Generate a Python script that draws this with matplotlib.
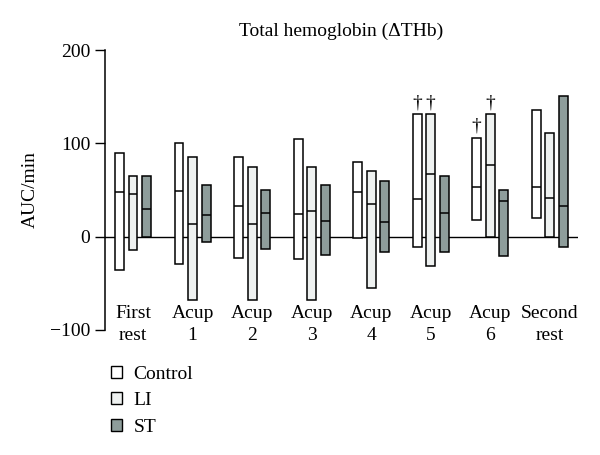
import matplotlib.pyplot as plt
from matplotlib.patches import Patch
import numpy as np

font = "Liberation Serif"
plt.rcParams['font.family'] = [font, 'DejaVu Serif']

categories = ["First\nrest", "Acup\n1", "Acup\n2", "Acup\n3", "Acup\n4", "Acup\n5", "Acup\n6", "Second\nrest"]
groups = ["Control", "LI", "ST"]
colors = ["#ffffff", "#eef1f0", "#8e9d9b"]

# min / median / max per category
control_min = [-36, -29, -23, -24, -1, -11, 18, 20]
control_med = [48, 49, 33, 24, 48, 40, 53, 53]
control_max = [90, 100, 85, 105, 80, 131, 106, 136]

li_min = [-14, -68, -68, -68, -55, -31, 0, 0]
li_med = [46, 14, 13, 27, 35, 67, 77, 41]
li_max = [65, 85, 75, 75, 70, 131, 131, 111]

st_min = [0, -6, -13, -20, -17, -17, -21, -11]
st_med = [30, 23, 25, 17, 16, 25, 38, 33]
st_max = [65, 55, 50, 55, 60, 65, 50, 151]

# daggers: (category index, group index)
daggers = [(5, 0), (5, 1), (6, 0), (6, 1)]

mins = [control_min, li_min, st_min]
meds = [control_med, li_med, st_med]
maxs = [control_max, li_max, st_max]

fig = plt.figure(figsize=(6, 4.55), dpi=100)
ax = fig.add_axes([0.175, 0.275, 0.788, 0.615])

x = np.arange(len(categories))
width = 0.15
offset = 0.227

for g in range(3):
    xs = x + (g - 1) * offset
    lo = np.array(mins[g])
    hi = np.array(maxs[g])
    ax.bar(xs, hi - lo, bottom=lo, width=width, color=colors[g],
           edgecolor='black', linewidth=1.1, zorder=3)
    ax.hlines(meds[g], xs - width / 2, xs + width / 2, color='black', linewidth=1.1, zorder=4)

for c, g in daggers:
    ax.text(x[c] + (g - 1) * offset, maxs[g][c] + 3, "\u2020", ha='center', va='bottom', fontsize=14)

ax.axhline(0, color='black', linewidth=1, zorder=2)

for i, lab in enumerate(categories):
    ax.text(x[i], -73, lab, ha='center', va='top', fontsize=14, linespacing=1.4)

ax.set_xlim(-0.47, 7.47)
ax.set_ylim(-100, 200)
ax.set_yticks([-100, 0, 100, 200])
ax.set_xticks([])
ax.tick_params(axis='y', labelsize=14, length=7, width=1)
for pos in ['right', 'top', 'bottom']:
    ax.spines[pos].set_visible(False)
ax.spines['left'].set_linewidth(1.1)
ax.set_ylabel("AUC/min", fontsize=14, labelpad=8)
ax.set_title("Total hemoglobin (\u0394THb)", fontsize=14, pad=10)

handles = [Patch(facecolor=colors[g], edgecolor='black', linewidth=1) for g in range(3)]
fig.legend(handles, groups, loc='upper left', bbox_to_anchor=(0.172, 0.213), frameon=False,
           fontsize=14, handlelength=0.55, handleheight=0.55, handletextpad=0.6, labelspacing=0.48,
           borderaxespad=0)

fig.savefig("out.png", dpi=100)
